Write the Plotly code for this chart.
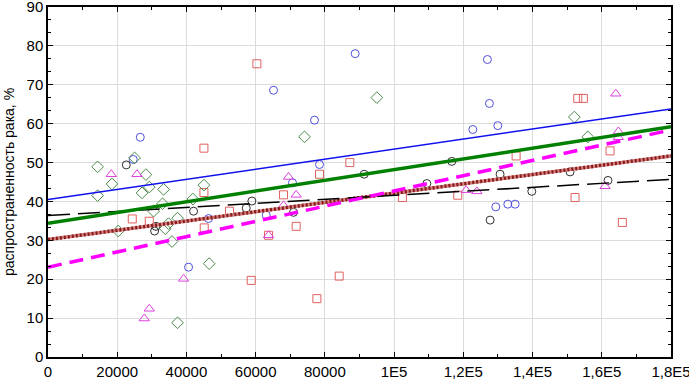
import plotly.graph_objects as go

# --- data ---
blue_x = [26660, 24640, 40610, 46380, 63040, 65160, 70640, 77000, 78440, 88750,
          122740, 126960, 127540, 129960, 129380, 132850, 134960]
blue_y = [56.5, 50.8, 23.1, 35.6, 36.5, 68.6, 44.8, 60.9, 49.5, 78.0,
          58.5, 76.5, 65.2, 59.5, 38.6, 39.3, 39.3]

black_x = [22620, 30800, 31200, 42050, 57270, 58900, 70930, 91350, 109450, 116670,
           127740, 130620, 139780, 150840, 161800]
black_y = [49.4, 32.4, 33.6, 37.5, 38.3, 40.1, 37.2, 47.0, 44.6, 50.3,
           35.2, 47.0, 42.6, 47.6, 45.4]

red_x = [24350, 29260, 45050, 45050, 45140, 52450, 58710, 60360, 63720, 68050,
         71710, 77690, 78440, 84130, 87200, 102400, 118400, 135250, 152280, 153060,
         154680, 162380, 165950]
red_y = [35.5, 34.9, 53.7, 42.3, 33.2, 37.5, 19.7, 75.4, 31.3, 41.7,
         33.6, 15.0, 47.0, 20.8, 50.0, 41.0, 41.6, 51.7, 41.0, 66.5,
         66.5, 53.0, 34.6]

green_x = [14330, 14330, 18480, 20300, 25010, 27150, 28300, 29260, 30500, 33100,
           33390, 33880, 34830, 35800, 37430, 37430, 41870, 45050, 46580, 74110,
           95010, 152080, 155950]
green_y = [48.9, 41.5, 44.5, 32.4, 51.2, 42.2, 46.9, 43.7, 37.5, 39.4,
           43.1, 33.0, 34.3, 29.7, 35.7, 8.8, 40.6, 44.2, 24.0, 56.6,
           66.7, 61.7, 56.6]

mag_x = [18280, 25700, 27810, 29260, 39170, 63720, 68050, 69490, 71710, 120800,
         123900, 160950, 164040, 164800, 164800]
mag_y = [47.0, 47.0, 9.9, 12.4, 20.1, 31.3, 39.0, 46.3, 41.7, 42.9,
         42.6, 43.9, 67.7, 58.0, 56.5]

# regression lines (values at the two ends of the x range)
fit_x = [0, 180000]
fit_blue = [40.5, 63.8]
fit_green = [34.4, 59.2]
fit_mag = [23.1, 58.4]
fit_red = [30.2, 51.7]
fit_black = [36.4, 45.7]

x_tickvals = [0, 20000, 40000, 60000, 80000, 100000, 120000, 140000, 160000, 180000]
x_ticktext = ["0", "20000", "40000", "60000", "80000", "1E5", "1,2E5", "1,4E5", "1,6E5", "1,8E5"]
y_tickvals = [0, 10, 20, 30, 40, 50, 60, 70, 80, 90]
y_title = "распространенность рака, %"

fig = go.Figure()

def pts(x, y, color, symbol, size=8):
    fig.add_trace(go.Scatter(x=x, y=y, mode="markers", showlegend=False, cliponaxis=False,
                             marker=dict(symbol=symbol, size=size, color=color,
                                         line=dict(color=color, width=1))))

pts(blue_x, blue_y, "#5050e0", "circle-open")
pts(black_x, black_y, "#303030", "circle-open")
pts(red_x, red_y, "#e06060", "square-open")
pts(green_x, green_y, "#4a8a4a", "diamond-open", 9)
pts(mag_x, mag_y, "#e040e0", "triangle-up-open", 9)

def line(y, color, width, dash):
    fig.add_trace(go.Scatter(x=fit_x, y=y, mode="lines", showlegend=False,
                             line=dict(color=color, width=width, dash=dash)))

line(fit_blue, "#1010ee", 1.5, "solid")
line(fit_red, "#d08080", 3.5, "solid")
line(fit_red, "#8b1a1a", 3.5, "2px,2px")
line(fit_black, "#000000", 1.5, "22px,8px")
line(fit_mag, "#ff00ff", 3.5, "14px,8px")
line(fit_green, "#008000", 3.5, "solid")

axis_common = dict(showline=True, linecolor="black", linewidth=1.5, mirror="ticks",
                   showgrid=True, gridcolor="#dcdcdc", gridwidth=1, zeroline=False,
                   ticks="inside", ticklen=5, tickcolor="black", automargin=False,
                   ticklabeloverflow="allow",
                   tickfont=dict(family="Liberation Sans, Arial", size=15, color="black"))

fig.update_xaxes(range=[0, 180000], tickvals=x_tickvals, ticktext=x_ticktext,
                 minor=dict(dtick=10000, ticks="inside", ticklen=3, tickcolor="black", showgrid=False),
                 **axis_common)
fig.update_yaxes(range=[0, 90], tickvals=y_tickvals,
                 minor=dict(dtick=10/3, ticks="inside", ticklen=3, tickcolor="black", showgrid=False),
                 **axis_common)

fig.add_annotation(text=y_title, textangle=-90, showarrow=False,
                   xref="paper", yref="paper", x=(9 - 48) / 623, y=0.5,
                   xanchor="center", yanchor="middle",
                   font=dict(family="Liberation Sans, Arial", size=14, color="black"))

fig.update_layout(width=689, height=380, margin=dict(l=48, r=18, t=7, b=23),
                  plot_bgcolor="white", paper_bgcolor="white")

fig.write_html("out.html", config={"displayModeBar": False},
               post_script="document.body.style.margin='0';document.body.style.overflow='hidden';")
